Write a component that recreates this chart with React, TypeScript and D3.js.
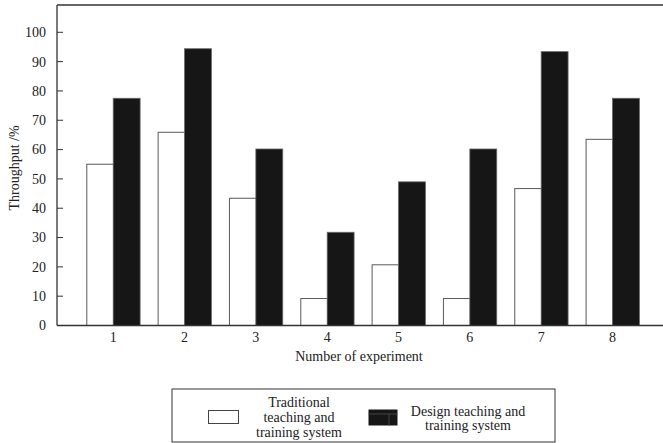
import React from "react";
import * as d3 from "d3";

const experiments = ["1", "2", "3", "4", "5", "6", "7", "8"];
const traditional = [55.0, 65.9, 43.4, 9.2, 20.7, 9.2, 46.7, 63.5];
const design = [77.5, 94.4, 60.2, 31.8, 49.0, 60.2, 93.4, 77.5];
const yTicks = [0, 10, 20, 30, 40, 50, 60, 70, 80, 90, 100];
const seriesNames = ["Traditional teaching and training system", "Design teaching and training system"];
const legendLines1 = ["Traditional", "teaching and", "training system"];
const legendLines2 = ["Design teaching and", "training system"];

const W = 663;
const H = 443;
const FONT = "'Liberation Serif', 'Times New Roman', serif";

export default function App() {
  const plotLeft = 57;
  const plotRight = 663;
  const plotTop = 5;
  const x = d3
    .scaleBand<string>()
    .domain(experiments)
    .range([86.3, 639.4])
    .paddingInner(0.2455)
    .paddingOuter(0);
  const y = d3.scaleLinear().domain([0, 100]).range([325.5, 32.3]);
  const bw = x.bandwidth() / 2;
  const y0 = y(0);

  return (
    <svg
      width={W}
      height={H}
      style={{ position: "absolute", left: 0, top: 0, background: "#fff" }}
      fontFamily={FONT}
    >
      <rect x={0} y={0} width={W} height={H} fill="#fff" />
      {/* bars */}
      {experiments.map((e, i) => (
        <g key={e}>
          <rect
            x={(x(e) as number) + 0.5}
            y={y(traditional[i])}
            width={bw}
            height={y0 - y(traditional[i])}
            fill="#fff"
            stroke="#5a5a5a"
            strokeWidth={1}
          />
          <rect
            x={(x(e) as number) + bw}
            y={y(design[i])}
            width={bw}
            height={y0 - y(design[i])}
            fill="#161616"
            stroke="#6a6a6a"
            strokeWidth={0.8}
          />
        </g>
      ))}
      {/* frame */}
      <line x1={plotLeft} x2={plotRight} y1={plotTop} y2={plotTop} stroke="#333" strokeWidth={1.3} />
      <line x1={plotLeft} x2={plotLeft} y1={plotTop} y2={y0} stroke="#333" strokeWidth={1.3} />
      <line x1={plotLeft} x2={plotRight} y1={y0} y2={y0} stroke="#333" strokeWidth={1.3} />
      {/* y ticks */}
      {yTicks.map((t) => (
        <g key={t}>
          {t > 0 && (
            <line x1={plotLeft} x2={plotLeft + 6} y1={y(t)} y2={y(t)} stroke="#333" strokeWidth={1} />
          )}
          <text x={46} y={y(t)} dy="0.35em" textAnchor="end" fontSize={14} fill="#222">
            {t}
          </text>
        </g>
      ))}
      {/* x labels */}
      {experiments.map((e) => (
        <text
          key={e}
          x={(x(e) as number) + bw}
          y={342}
          textAnchor="middle"
          fontSize={14}
          fill="#222"
        >
          {e}
        </text>
      ))}
      <text x={359} y={361} textAnchor="middle" fontSize={14} fill="#222">
        Number of experiment
      </text>
      <text
        transform={`translate(19,168) rotate(-90)`}
        textAnchor="middle"
        fontSize={14}
        fill="#222"
      >
        Throughput /%
      </text>
      {/* legend */}
      <g>
        <rect x={172} y={389} width={383} height={53} fill="#fff" stroke="#333" strokeWidth={1} />
        <rect x={208.5} y={410.5} width={30} height={13} fill="#fff" stroke="#444" strokeWidth={1} />
        <rect x={368.5} y={409.5} width={29} height={16} fill="#161616" />
        <line x1={368.5} x2={397.5} y1={414} y2={414} stroke="#444" strokeWidth={1} />
        <line x1={389} x2={389} y1={414} y2={425.5} stroke="#444" strokeWidth={1} />
        {legendLines1.map((l, i) => (
          <text key={l} x={299} y={406.5 + i * 15} textAnchor="middle" fontSize={14} fill="#222">
            {l}
          </text>
        ))}
        {legendLines2.map((l, i) => (
          <text key={l} x={468} y={415.5 + i * 14.5} textAnchor="middle" fontSize={14} fill="#222">
            {l}
          </text>
        ))}
        <title>{seriesNames.join(", ")}</title>
      </g>
    </svg>
  );
}
